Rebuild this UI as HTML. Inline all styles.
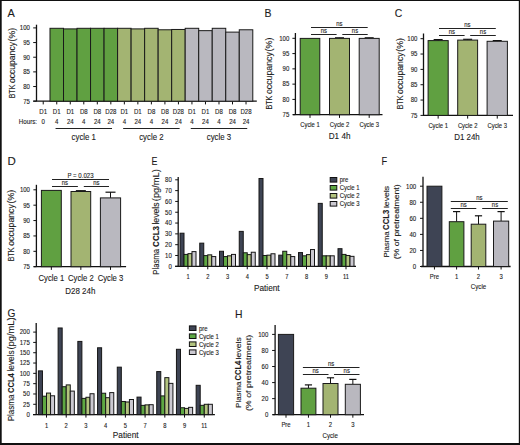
<!DOCTYPE html><html><head><meta charset="utf-8"><style>html,body{margin:0;padding:0;background:#fff;width:520px;height:445px;overflow:hidden}svg text{font-family:"Liberation Sans", sans-serif}</style></head><body><svg width="520" height="445" viewBox="0 0 520 445" style="position:absolute;left:0;top:0">
<rect x="0" y="0" width="520" height="445" fill="#fff"/>
<text x="7.60" y="17.00" font-size="11.3" text-anchor="start" fill="#1c1c1c" textLength="7.30" lengthAdjust="spacingAndGlyphs" stroke="#1c1c1c" stroke-width="0.12">A</text>
<line x1="36.50" y1="24.70" x2="36.50" y2="101.20" stroke="#111111" stroke-width="1.3"/>
<line x1="33.20" y1="27.90" x2="36.50" y2="27.90" stroke="#111111" stroke-width="1.0"/>
<text x="29.90" y="30.24" font-size="6.5" text-anchor="end" fill="#1c1c1c" textLength="10.08" lengthAdjust="spacingAndGlyphs" stroke="#1c1c1c" stroke-width="0.12">100</text>
<line x1="33.20" y1="42.56" x2="36.50" y2="42.56" stroke="#111111" stroke-width="1.0"/>
<text x="29.90" y="44.90" font-size="6.5" text-anchor="end" fill="#1c1c1c" textLength="6.72" lengthAdjust="spacingAndGlyphs" stroke="#1c1c1c" stroke-width="0.12">95</text>
<line x1="33.20" y1="57.22" x2="36.50" y2="57.22" stroke="#111111" stroke-width="1.0"/>
<text x="29.90" y="59.56" font-size="6.5" text-anchor="end" fill="#1c1c1c" textLength="6.72" lengthAdjust="spacingAndGlyphs" stroke="#1c1c1c" stroke-width="0.12">90</text>
<line x1="33.20" y1="71.88" x2="36.50" y2="71.88" stroke="#111111" stroke-width="1.0"/>
<text x="29.90" y="74.22" font-size="6.5" text-anchor="end" fill="#1c1c1c" textLength="6.72" lengthAdjust="spacingAndGlyphs" stroke="#1c1c1c" stroke-width="0.12">85</text>
<line x1="33.20" y1="86.54" x2="36.50" y2="86.54" stroke="#111111" stroke-width="1.0"/>
<text x="29.90" y="88.88" font-size="6.5" text-anchor="end" fill="#1c1c1c" textLength="6.72" lengthAdjust="spacingAndGlyphs" stroke="#1c1c1c" stroke-width="0.12">80</text>
<line x1="33.20" y1="101.20" x2="36.50" y2="101.20" stroke="#111111" stroke-width="1.0"/>
<text x="29.90" y="103.54" font-size="6.5" text-anchor="end" fill="#1c1c1c" textLength="6.72" lengthAdjust="spacingAndGlyphs" stroke="#1c1c1c" stroke-width="0.12">75</text>
<text transform="translate(15.00,98.30) rotate(-90)" font-size="9.0" fill="#1c1c1c" stroke="#1c1c1c" stroke-width="0.12" textLength="13.60" lengthAdjust="spacingAndGlyphs">BTK</text>
<text transform="translate(15.00,83.10) rotate(-90)" font-size="9.0" fill="#1c1c1c" stroke="#1c1c1c" stroke-width="0.12" textLength="41.10" lengthAdjust="spacingAndGlyphs">occupancy</text>
<text transform="translate(15.00,41.40) rotate(-90)" font-size="9.0" fill="#1c1c1c" stroke="#1c1c1c" stroke-width="0.12" textLength="13.60" lengthAdjust="spacingAndGlyphs">(%)</text>
<line x1="33.30" y1="101.20" x2="256.80" y2="101.20" stroke="#111111" stroke-width="1.3"/>
<line x1="43.23" y1="101.20" x2="43.23" y2="104.40" stroke="#111111" stroke-width="1.0"/>
<line x1="56.75" y1="101.20" x2="56.75" y2="104.40" stroke="#111111" stroke-width="1.0"/>
<rect x="49.99" y="28.30" width="13.52" height="72.90" fill="#60a041" stroke="#1a1a1a" stroke-width="1.0"/>
<line x1="70.27" y1="101.20" x2="70.27" y2="104.40" stroke="#111111" stroke-width="1.0"/>
<rect x="63.51" y="28.89" width="13.52" height="72.31" fill="#60a041" stroke="#1a1a1a" stroke-width="1.0"/>
<line x1="83.79" y1="101.20" x2="83.79" y2="104.40" stroke="#111111" stroke-width="1.0"/>
<rect x="77.03" y="28.30" width="13.52" height="72.90" fill="#60a041" stroke="#1a1a1a" stroke-width="1.0"/>
<line x1="97.31" y1="101.20" x2="97.31" y2="104.40" stroke="#111111" stroke-width="1.0"/>
<rect x="90.55" y="28.30" width="13.52" height="72.90" fill="#60a041" stroke="#1a1a1a" stroke-width="1.0"/>
<line x1="110.83" y1="101.20" x2="110.83" y2="104.40" stroke="#111111" stroke-width="1.0"/>
<rect x="104.07" y="28.30" width="13.52" height="72.90" fill="#60a041" stroke="#1a1a1a" stroke-width="1.0"/>
<line x1="124.35" y1="101.20" x2="124.35" y2="104.40" stroke="#111111" stroke-width="1.0"/>
<rect x="117.59" y="28.30" width="13.52" height="72.90" fill="#a3b472" stroke="#1a1a1a" stroke-width="1.0"/>
<line x1="137.87" y1="101.20" x2="137.87" y2="104.40" stroke="#111111" stroke-width="1.0"/>
<rect x="131.11" y="28.89" width="13.52" height="72.31" fill="#a3b472" stroke="#1a1a1a" stroke-width="1.0"/>
<line x1="151.39" y1="101.20" x2="151.39" y2="104.40" stroke="#111111" stroke-width="1.0"/>
<rect x="144.63" y="28.30" width="13.52" height="72.90" fill="#a3b472" stroke="#1a1a1a" stroke-width="1.0"/>
<line x1="164.91" y1="101.20" x2="164.91" y2="104.40" stroke="#111111" stroke-width="1.0"/>
<rect x="158.15" y="29.77" width="13.52" height="71.43" fill="#a3b472" stroke="#1a1a1a" stroke-width="1.0"/>
<line x1="178.43" y1="101.20" x2="178.43" y2="104.40" stroke="#111111" stroke-width="1.0"/>
<rect x="171.67" y="29.47" width="13.52" height="71.73" fill="#a3b472" stroke="#1a1a1a" stroke-width="1.0"/>
<line x1="191.95" y1="101.20" x2="191.95" y2="104.40" stroke="#111111" stroke-width="1.0"/>
<rect x="185.19" y="28.30" width="13.52" height="72.90" fill="#b9b8bf" stroke="#1a1a1a" stroke-width="1.0"/>
<line x1="205.47" y1="101.20" x2="205.47" y2="104.40" stroke="#111111" stroke-width="1.0"/>
<rect x="198.71" y="30.65" width="13.52" height="70.55" fill="#b9b8bf" stroke="#1a1a1a" stroke-width="1.0"/>
<line x1="218.99" y1="101.20" x2="218.99" y2="104.40" stroke="#111111" stroke-width="1.0"/>
<rect x="212.23" y="28.30" width="13.52" height="72.90" fill="#b9b8bf" stroke="#1a1a1a" stroke-width="1.0"/>
<line x1="232.51" y1="101.20" x2="232.51" y2="104.40" stroke="#111111" stroke-width="1.0"/>
<rect x="225.75" y="32.11" width="13.52" height="69.09" fill="#b9b8bf" stroke="#1a1a1a" stroke-width="1.0"/>
<line x1="246.03" y1="101.20" x2="246.03" y2="104.40" stroke="#111111" stroke-width="1.0"/>
<rect x="239.27" y="29.77" width="13.52" height="71.43" fill="#b9b8bf" stroke="#1a1a1a" stroke-width="1.0"/>
<text x="43.23" y="113.70" font-size="6.6" text-anchor="middle" fill="#1c1c1c" textLength="7.76" lengthAdjust="spacingAndGlyphs" stroke="#1c1c1c" stroke-width="0.12">D1</text>
<text x="43.23" y="123.80" font-size="6.6" text-anchor="middle" fill="#1c1c1c" textLength="3.38" lengthAdjust="spacingAndGlyphs" stroke="#1c1c1c" stroke-width="0.12">0</text>
<text x="56.75" y="113.70" font-size="6.6" text-anchor="middle" fill="#1c1c1c" textLength="7.76" lengthAdjust="spacingAndGlyphs" stroke="#1c1c1c" stroke-width="0.12">D1</text>
<text x="56.75" y="123.80" font-size="6.6" text-anchor="middle" fill="#1c1c1c" textLength="3.38" lengthAdjust="spacingAndGlyphs" stroke="#1c1c1c" stroke-width="0.12">4</text>
<text x="70.27" y="113.70" font-size="6.6" text-anchor="middle" fill="#1c1c1c" textLength="7.76" lengthAdjust="spacingAndGlyphs" stroke="#1c1c1c" stroke-width="0.12">D1</text>
<text x="70.27" y="123.80" font-size="6.6" text-anchor="middle" fill="#1c1c1c" textLength="6.75" lengthAdjust="spacingAndGlyphs" stroke="#1c1c1c" stroke-width="0.12">24</text>
<text x="83.79" y="113.70" font-size="6.6" text-anchor="middle" fill="#1c1c1c" textLength="7.76" lengthAdjust="spacingAndGlyphs" stroke="#1c1c1c" stroke-width="0.12">D8</text>
<text x="83.79" y="123.80" font-size="6.6" text-anchor="middle" fill="#1c1c1c" textLength="3.38" lengthAdjust="spacingAndGlyphs" stroke="#1c1c1c" stroke-width="0.12">4</text>
<text x="97.31" y="113.70" font-size="6.6" text-anchor="middle" fill="#1c1c1c" textLength="7.76" lengthAdjust="spacingAndGlyphs" stroke="#1c1c1c" stroke-width="0.12">D8</text>
<text x="97.31" y="123.80" font-size="6.6" text-anchor="middle" fill="#1c1c1c" textLength="6.75" lengthAdjust="spacingAndGlyphs" stroke="#1c1c1c" stroke-width="0.12">24</text>
<text x="110.83" y="113.70" font-size="6.6" text-anchor="middle" fill="#1c1c1c" textLength="11.14" lengthAdjust="spacingAndGlyphs" stroke="#1c1c1c" stroke-width="0.12">D28</text>
<text x="110.83" y="123.80" font-size="6.6" text-anchor="middle" fill="#1c1c1c" textLength="6.75" lengthAdjust="spacingAndGlyphs" stroke="#1c1c1c" stroke-width="0.12">24</text>
<text x="124.35" y="113.70" font-size="6.6" text-anchor="middle" fill="#1c1c1c" textLength="7.76" lengthAdjust="spacingAndGlyphs" stroke="#1c1c1c" stroke-width="0.12">D1</text>
<text x="124.35" y="123.80" font-size="6.6" text-anchor="middle" fill="#1c1c1c" textLength="3.38" lengthAdjust="spacingAndGlyphs" stroke="#1c1c1c" stroke-width="0.12">4</text>
<text x="137.87" y="113.70" font-size="6.6" text-anchor="middle" fill="#1c1c1c" textLength="7.76" lengthAdjust="spacingAndGlyphs" stroke="#1c1c1c" stroke-width="0.12">D1</text>
<text x="137.87" y="123.80" font-size="6.6" text-anchor="middle" fill="#1c1c1c" textLength="6.75" lengthAdjust="spacingAndGlyphs" stroke="#1c1c1c" stroke-width="0.12">24</text>
<text x="151.39" y="113.70" font-size="6.6" text-anchor="middle" fill="#1c1c1c" textLength="7.76" lengthAdjust="spacingAndGlyphs" stroke="#1c1c1c" stroke-width="0.12">D8</text>
<text x="151.39" y="123.80" font-size="6.6" text-anchor="middle" fill="#1c1c1c" textLength="3.38" lengthAdjust="spacingAndGlyphs" stroke="#1c1c1c" stroke-width="0.12">4</text>
<text x="164.91" y="113.70" font-size="6.6" text-anchor="middle" fill="#1c1c1c" textLength="7.76" lengthAdjust="spacingAndGlyphs" stroke="#1c1c1c" stroke-width="0.12">D8</text>
<text x="164.91" y="123.80" font-size="6.6" text-anchor="middle" fill="#1c1c1c" textLength="6.75" lengthAdjust="spacingAndGlyphs" stroke="#1c1c1c" stroke-width="0.12">24</text>
<text x="178.43" y="113.70" font-size="6.6" text-anchor="middle" fill="#1c1c1c" textLength="11.14" lengthAdjust="spacingAndGlyphs" stroke="#1c1c1c" stroke-width="0.12">D28</text>
<text x="178.43" y="123.80" font-size="6.6" text-anchor="middle" fill="#1c1c1c" textLength="6.75" lengthAdjust="spacingAndGlyphs" stroke="#1c1c1c" stroke-width="0.12">24</text>
<text x="191.95" y="113.70" font-size="6.6" text-anchor="middle" fill="#1c1c1c" textLength="7.76" lengthAdjust="spacingAndGlyphs" stroke="#1c1c1c" stroke-width="0.12">D1</text>
<text x="191.95" y="123.80" font-size="6.6" text-anchor="middle" fill="#1c1c1c" textLength="3.38" lengthAdjust="spacingAndGlyphs" stroke="#1c1c1c" stroke-width="0.12">4</text>
<text x="205.47" y="113.70" font-size="6.6" text-anchor="middle" fill="#1c1c1c" textLength="7.76" lengthAdjust="spacingAndGlyphs" stroke="#1c1c1c" stroke-width="0.12">D1</text>
<text x="205.47" y="123.80" font-size="6.6" text-anchor="middle" fill="#1c1c1c" textLength="6.75" lengthAdjust="spacingAndGlyphs" stroke="#1c1c1c" stroke-width="0.12">24</text>
<text x="218.99" y="113.70" font-size="6.6" text-anchor="middle" fill="#1c1c1c" textLength="7.76" lengthAdjust="spacingAndGlyphs" stroke="#1c1c1c" stroke-width="0.12">D8</text>
<text x="218.99" y="123.80" font-size="6.6" text-anchor="middle" fill="#1c1c1c" textLength="3.38" lengthAdjust="spacingAndGlyphs" stroke="#1c1c1c" stroke-width="0.12">4</text>
<text x="232.51" y="113.70" font-size="6.6" text-anchor="middle" fill="#1c1c1c" textLength="7.76" lengthAdjust="spacingAndGlyphs" stroke="#1c1c1c" stroke-width="0.12">D8</text>
<text x="232.51" y="123.80" font-size="6.6" text-anchor="middle" fill="#1c1c1c" textLength="6.75" lengthAdjust="spacingAndGlyphs" stroke="#1c1c1c" stroke-width="0.12">24</text>
<text x="246.03" y="113.70" font-size="6.6" text-anchor="middle" fill="#1c1c1c" textLength="11.14" lengthAdjust="spacingAndGlyphs" stroke="#1c1c1c" stroke-width="0.12">D28</text>
<text x="246.03" y="123.80" font-size="6.6" text-anchor="middle" fill="#1c1c1c" textLength="6.75" lengthAdjust="spacingAndGlyphs" stroke="#1c1c1c" stroke-width="0.12">24</text>
<text x="37.00" y="123.80" font-size="6.6" text-anchor="end" fill="#1c1c1c" textLength="18.20" lengthAdjust="spacingAndGlyphs" stroke="#1c1c1c" stroke-width="0.12">Hours:</text>
<line x1="55.55" y1="128.50" x2="112.03" y2="128.50" stroke="#222" stroke-width="1.2"/>
<text x="83.79" y="139.60" font-size="8.5" text-anchor="middle" fill="#1c1c1c" textLength="24.40" lengthAdjust="spacingAndGlyphs" stroke="#1c1c1c" stroke-width="0.12">cycle 1</text>
<line x1="123.15" y1="128.50" x2="179.63" y2="128.50" stroke="#222" stroke-width="1.2"/>
<text x="151.39" y="139.60" font-size="8.5" text-anchor="middle" fill="#1c1c1c" textLength="24.40" lengthAdjust="spacingAndGlyphs" stroke="#1c1c1c" stroke-width="0.12">cycle 2</text>
<line x1="190.75" y1="128.50" x2="247.23" y2="128.50" stroke="#222" stroke-width="1.2"/>
<text x="218.99" y="139.60" font-size="8.5" text-anchor="middle" fill="#1c1c1c" textLength="24.40" lengthAdjust="spacingAndGlyphs" stroke="#1c1c1c" stroke-width="0.12">cycle 3</text>
<text x="264.40" y="17.00" font-size="11.3" text-anchor="start" fill="#1c1c1c" textLength="7.00" lengthAdjust="spacingAndGlyphs" stroke="#1c1c1c" stroke-width="0.12">B</text>
<line x1="295.40" y1="33.00" x2="295.40" y2="114.70" stroke="#111111" stroke-width="1.3"/>
<line x1="292.40" y1="38.30" x2="295.40" y2="38.30" stroke="#111111" stroke-width="1.0"/>
<text x="289.30" y="40.64" font-size="6.5" text-anchor="end" fill="#1c1c1c" textLength="10.08" lengthAdjust="spacingAndGlyphs" stroke="#1c1c1c" stroke-width="0.12">100</text>
<line x1="292.40" y1="53.58" x2="295.40" y2="53.58" stroke="#111111" stroke-width="1.0"/>
<text x="289.30" y="55.92" font-size="6.5" text-anchor="end" fill="#1c1c1c" textLength="6.72" lengthAdjust="spacingAndGlyphs" stroke="#1c1c1c" stroke-width="0.12">95</text>
<line x1="292.40" y1="68.86" x2="295.40" y2="68.86" stroke="#111111" stroke-width="1.0"/>
<text x="289.30" y="71.20" font-size="6.5" text-anchor="end" fill="#1c1c1c" textLength="6.72" lengthAdjust="spacingAndGlyphs" stroke="#1c1c1c" stroke-width="0.12">90</text>
<line x1="292.40" y1="84.14" x2="295.40" y2="84.14" stroke="#111111" stroke-width="1.0"/>
<text x="289.30" y="86.48" font-size="6.5" text-anchor="end" fill="#1c1c1c" textLength="6.72" lengthAdjust="spacingAndGlyphs" stroke="#1c1c1c" stroke-width="0.12">85</text>
<line x1="292.40" y1="99.42" x2="295.40" y2="99.42" stroke="#111111" stroke-width="1.0"/>
<text x="289.30" y="101.76" font-size="6.5" text-anchor="end" fill="#1c1c1c" textLength="6.72" lengthAdjust="spacingAndGlyphs" stroke="#1c1c1c" stroke-width="0.12">80</text>
<line x1="292.40" y1="114.70" x2="295.40" y2="114.70" stroke="#111111" stroke-width="1.0"/>
<text x="289.30" y="117.04" font-size="6.5" text-anchor="end" fill="#1c1c1c" textLength="6.72" lengthAdjust="spacingAndGlyphs" stroke="#1c1c1c" stroke-width="0.12">75</text>
<text transform="translate(272.20,109.60) rotate(-90)" font-size="8.6" fill="#1c1c1c" stroke="#1c1c1c" stroke-width="0.12" textLength="13.87" lengthAdjust="spacingAndGlyphs">BTK</text>
<text transform="translate(272.20,94.07) rotate(-90)" font-size="8.6" fill="#1c1c1c" stroke="#1c1c1c" stroke-width="0.12" textLength="41.97" lengthAdjust="spacingAndGlyphs">occupancy</text>
<text transform="translate(272.20,51.47) rotate(-90)" font-size="8.6" fill="#1c1c1c" stroke="#1c1c1c" stroke-width="0.12" textLength="13.87" lengthAdjust="spacingAndGlyphs">(%)</text>
<line x1="293.00" y1="114.70" x2="382.50" y2="114.70" stroke="#111111" stroke-width="1.3"/>
<rect x="300.20" y="38.40" width="19.60" height="76.30" fill="#60a041" stroke="#1a1a1a" stroke-width="1.0"/>
<line x1="310.00" y1="114.70" x2="310.00" y2="117.90" stroke="#111111" stroke-width="1.0"/>
<text x="310.00" y="126.80" font-size="6.3" text-anchor="middle" fill="#1c1c1c" textLength="19.50" lengthAdjust="spacingAndGlyphs" stroke="#1c1c1c" stroke-width="0.12">Cycle 1</text>
<line x1="339.50" y1="37.80" x2="339.50" y2="38.40" stroke="#111" stroke-width="1.0"/>
<line x1="335.00" y1="37.80" x2="344.00" y2="37.80" stroke="#111" stroke-width="1.2"/>
<rect x="329.50" y="38.40" width="20.00" height="76.30" fill="#a3b472" stroke="#1a1a1a" stroke-width="1.0"/>
<line x1="339.50" y1="114.70" x2="339.50" y2="117.90" stroke="#111111" stroke-width="1.0"/>
<text x="339.50" y="126.80" font-size="6.3" text-anchor="middle" fill="#1c1c1c" textLength="19.50" lengthAdjust="spacingAndGlyphs" stroke="#1c1c1c" stroke-width="0.12">Cycle 2</text>
<line x1="369.20" y1="37.80" x2="369.20" y2="38.40" stroke="#111" stroke-width="1.0"/>
<line x1="364.70" y1="37.80" x2="373.70" y2="37.80" stroke="#111" stroke-width="1.2"/>
<rect x="359.20" y="38.40" width="20.00" height="76.30" fill="#b9b8bf" stroke="#1a1a1a" stroke-width="1.0"/>
<line x1="369.20" y1="114.70" x2="369.20" y2="117.90" stroke="#111111" stroke-width="1.0"/>
<text x="369.20" y="126.80" font-size="6.3" text-anchor="middle" fill="#1c1c1c" textLength="19.50" lengthAdjust="spacingAndGlyphs" stroke="#1c1c1c" stroke-width="0.12">Cycle 3</text>
<text x="339.60" y="139.10" font-size="8.6" text-anchor="middle" fill="#1c1c1c" textLength="21.70" lengthAdjust="spacingAndGlyphs" stroke="#1c1c1c" stroke-width="0.12">D1 4h</text>
<line x1="311.00" y1="27.50" x2="367.70" y2="27.50" stroke="#222" stroke-width="1.0"/>
<line x1="311.00" y1="34.50" x2="336.60" y2="34.50" stroke="#222" stroke-width="1.0"/>
<line x1="342.30" y1="34.50" x2="367.70" y2="34.50" stroke="#222" stroke-width="1.0"/>
<text x="339.35" y="25.80" font-size="6.9" text-anchor="middle" fill="#1c1c1c" textLength="6.27" lengthAdjust="spacingAndGlyphs" stroke="#1c1c1c" stroke-width="0.12">ns</text>
<text x="323.80" y="32.80" font-size="6.9" text-anchor="middle" fill="#1c1c1c" textLength="6.27" lengthAdjust="spacingAndGlyphs" stroke="#1c1c1c" stroke-width="0.12">ns</text>
<text x="355.00" y="32.80" font-size="6.9" text-anchor="middle" fill="#1c1c1c" textLength="6.27" lengthAdjust="spacingAndGlyphs" stroke="#1c1c1c" stroke-width="0.12">ns</text>
<text x="394.80" y="17.10" font-size="11.3" text-anchor="start" fill="#1c1c1c" textLength="7.50" lengthAdjust="spacingAndGlyphs" stroke="#1c1c1c" stroke-width="0.12">C</text>
<line x1="423.50" y1="33.50" x2="423.50" y2="115.40" stroke="#111111" stroke-width="1.3"/>
<line x1="420.50" y1="38.70" x2="423.50" y2="38.70" stroke="#111111" stroke-width="1.0"/>
<text x="417.40" y="41.04" font-size="6.5" text-anchor="end" fill="#1c1c1c" textLength="10.08" lengthAdjust="spacingAndGlyphs" stroke="#1c1c1c" stroke-width="0.12">100</text>
<line x1="420.50" y1="54.04" x2="423.50" y2="54.04" stroke="#111111" stroke-width="1.0"/>
<text x="417.40" y="56.38" font-size="6.5" text-anchor="end" fill="#1c1c1c" textLength="6.72" lengthAdjust="spacingAndGlyphs" stroke="#1c1c1c" stroke-width="0.12">95</text>
<line x1="420.50" y1="69.38" x2="423.50" y2="69.38" stroke="#111111" stroke-width="1.0"/>
<text x="417.40" y="71.72" font-size="6.5" text-anchor="end" fill="#1c1c1c" textLength="6.72" lengthAdjust="spacingAndGlyphs" stroke="#1c1c1c" stroke-width="0.12">90</text>
<line x1="420.50" y1="84.72" x2="423.50" y2="84.72" stroke="#111111" stroke-width="1.0"/>
<text x="417.40" y="87.06" font-size="6.5" text-anchor="end" fill="#1c1c1c" textLength="6.72" lengthAdjust="spacingAndGlyphs" stroke="#1c1c1c" stroke-width="0.12">85</text>
<line x1="420.50" y1="100.06" x2="423.50" y2="100.06" stroke="#111111" stroke-width="1.0"/>
<text x="417.40" y="102.40" font-size="6.5" text-anchor="end" fill="#1c1c1c" textLength="6.72" lengthAdjust="spacingAndGlyphs" stroke="#1c1c1c" stroke-width="0.12">80</text>
<line x1="420.50" y1="115.40" x2="423.50" y2="115.40" stroke="#111111" stroke-width="1.0"/>
<text x="417.40" y="117.74" font-size="6.5" text-anchor="end" fill="#1c1c1c" textLength="6.72" lengthAdjust="spacingAndGlyphs" stroke="#1c1c1c" stroke-width="0.12">75</text>
<text transform="translate(402.75,109.30) rotate(-90)" font-size="8.6" fill="#1c1c1c" stroke="#1c1c1c" stroke-width="0.12" textLength="13.75" lengthAdjust="spacingAndGlyphs">BTK</text>
<text transform="translate(402.75,93.93) rotate(-90)" font-size="8.6" fill="#1c1c1c" stroke="#1c1c1c" stroke-width="0.12" textLength="41.56" lengthAdjust="spacingAndGlyphs">occupancy</text>
<text transform="translate(402.75,51.75) rotate(-90)" font-size="8.6" fill="#1c1c1c" stroke="#1c1c1c" stroke-width="0.12" textLength="13.75" lengthAdjust="spacingAndGlyphs">(%)</text>
<line x1="423.00" y1="115.40" x2="513.00" y2="115.40" stroke="#111111" stroke-width="1.3"/>
<line x1="438.15" y1="39.60" x2="438.15" y2="40.60" stroke="#111" stroke-width="1.0"/>
<line x1="433.65" y1="39.60" x2="442.65" y2="39.60" stroke="#111" stroke-width="1.2"/>
<rect x="428.10" y="40.60" width="20.10" height="74.80" fill="#60a041" stroke="#1a1a1a" stroke-width="1.0"/>
<line x1="438.15" y1="115.40" x2="438.15" y2="118.60" stroke="#111111" stroke-width="1.0"/>
<text x="438.15" y="127.80" font-size="6.3" text-anchor="middle" fill="#1c1c1c" textLength="19.50" lengthAdjust="spacingAndGlyphs" stroke="#1c1c1c" stroke-width="0.12">Cycle 1</text>
<line x1="467.65" y1="39.30" x2="467.65" y2="40.10" stroke="#111" stroke-width="1.0"/>
<line x1="463.15" y1="39.30" x2="472.15" y2="39.30" stroke="#111" stroke-width="1.2"/>
<rect x="457.70" y="40.10" width="19.90" height="75.30" fill="#a3b472" stroke="#1a1a1a" stroke-width="1.0"/>
<line x1="467.65" y1="115.40" x2="467.65" y2="118.60" stroke="#111111" stroke-width="1.0"/>
<text x="467.65" y="127.80" font-size="6.3" text-anchor="middle" fill="#1c1c1c" textLength="19.50" lengthAdjust="spacingAndGlyphs" stroke="#1c1c1c" stroke-width="0.12">Cycle 2</text>
<line x1="497.25" y1="40.60" x2="497.25" y2="41.30" stroke="#111" stroke-width="1.0"/>
<line x1="492.75" y1="40.60" x2="501.75" y2="40.60" stroke="#111" stroke-width="1.2"/>
<rect x="487.10" y="41.30" width="20.30" height="74.10" fill="#b9b8bf" stroke="#1a1a1a" stroke-width="1.0"/>
<line x1="497.25" y1="115.40" x2="497.25" y2="118.60" stroke="#111111" stroke-width="1.0"/>
<text x="497.25" y="127.80" font-size="6.3" text-anchor="middle" fill="#1c1c1c" textLength="19.50" lengthAdjust="spacingAndGlyphs" stroke="#1c1c1c" stroke-width="0.12">Cycle 3</text>
<text x="467.00" y="140.30" font-size="8.6" text-anchor="middle" fill="#1c1c1c" textLength="25.50" lengthAdjust="spacingAndGlyphs" stroke="#1c1c1c" stroke-width="0.12">D1 24h</text>
<line x1="439.00" y1="28.50" x2="495.80" y2="28.50" stroke="#222" stroke-width="1.0"/>
<line x1="439.00" y1="35.50" x2="464.60" y2="35.50" stroke="#222" stroke-width="1.0"/>
<line x1="470.20" y1="35.50" x2="495.80" y2="35.50" stroke="#222" stroke-width="1.0"/>
<text x="467.40" y="26.80" font-size="6.9" text-anchor="middle" fill="#1c1c1c" textLength="6.27" lengthAdjust="spacingAndGlyphs" stroke="#1c1c1c" stroke-width="0.12">ns</text>
<text x="451.80" y="33.80" font-size="6.9" text-anchor="middle" fill="#1c1c1c" textLength="6.27" lengthAdjust="spacingAndGlyphs" stroke="#1c1c1c" stroke-width="0.12">ns</text>
<text x="483.00" y="33.80" font-size="6.9" text-anchor="middle" fill="#1c1c1c" textLength="6.27" lengthAdjust="spacingAndGlyphs" stroke="#1c1c1c" stroke-width="0.12">ns</text>
<text x="7.40" y="165.10" font-size="11.3" text-anchor="start" fill="#1c1c1c" textLength="8.30" lengthAdjust="spacingAndGlyphs" stroke="#1c1c1c" stroke-width="0.12">D</text>
<line x1="36.40" y1="184.80" x2="36.40" y2="266.70" stroke="#111111" stroke-width="1.3"/>
<line x1="33.40" y1="189.80" x2="36.40" y2="189.80" stroke="#111111" stroke-width="1.0"/>
<text x="30.00" y="192.14" font-size="6.5" text-anchor="end" fill="#1c1c1c" textLength="10.08" lengthAdjust="spacingAndGlyphs" stroke="#1c1c1c" stroke-width="0.12">100</text>
<line x1="33.40" y1="205.18" x2="36.40" y2="205.18" stroke="#111111" stroke-width="1.0"/>
<text x="30.00" y="207.52" font-size="6.5" text-anchor="end" fill="#1c1c1c" textLength="6.72" lengthAdjust="spacingAndGlyphs" stroke="#1c1c1c" stroke-width="0.12">95</text>
<line x1="33.40" y1="220.56" x2="36.40" y2="220.56" stroke="#111111" stroke-width="1.0"/>
<text x="30.00" y="222.90" font-size="6.5" text-anchor="end" fill="#1c1c1c" textLength="6.72" lengthAdjust="spacingAndGlyphs" stroke="#1c1c1c" stroke-width="0.12">90</text>
<line x1="33.40" y1="235.94" x2="36.40" y2="235.94" stroke="#111111" stroke-width="1.0"/>
<text x="30.00" y="238.28" font-size="6.5" text-anchor="end" fill="#1c1c1c" textLength="6.72" lengthAdjust="spacingAndGlyphs" stroke="#1c1c1c" stroke-width="0.12">85</text>
<line x1="33.40" y1="251.32" x2="36.40" y2="251.32" stroke="#111111" stroke-width="1.0"/>
<text x="30.00" y="253.66" font-size="6.5" text-anchor="end" fill="#1c1c1c" textLength="6.72" lengthAdjust="spacingAndGlyphs" stroke="#1c1c1c" stroke-width="0.12">80</text>
<line x1="33.40" y1="266.70" x2="36.40" y2="266.70" stroke="#111111" stroke-width="1.0"/>
<text x="30.00" y="269.04" font-size="6.5" text-anchor="end" fill="#1c1c1c" textLength="6.72" lengthAdjust="spacingAndGlyphs" stroke="#1c1c1c" stroke-width="0.12">75</text>
<text transform="translate(14.20,261.20) rotate(-90)" font-size="8.6" fill="#1c1c1c" stroke="#1c1c1c" stroke-width="0.12" textLength="13.76" lengthAdjust="spacingAndGlyphs">BTK</text>
<text transform="translate(14.20,245.80) rotate(-90)" font-size="8.6" fill="#1c1c1c" stroke="#1c1c1c" stroke-width="0.12" textLength="41.62" lengthAdjust="spacingAndGlyphs">occupancy</text>
<text transform="translate(14.20,203.56) rotate(-90)" font-size="8.6" fill="#1c1c1c" stroke="#1c1c1c" stroke-width="0.12" textLength="13.76" lengthAdjust="spacingAndGlyphs">(%)</text>
<line x1="33.70" y1="266.70" x2="126.10" y2="266.70" stroke="#111111" stroke-width="1.3"/>
<rect x="41.40" y="190.40" width="19.90" height="76.30" fill="#60a041" stroke="#1a1a1a" stroke-width="1.0"/>
<line x1="51.35" y1="266.70" x2="51.35" y2="269.90" stroke="#111111" stroke-width="1.0"/>
<text x="51.35" y="281.00" font-size="8.9" text-anchor="middle" fill="#1c1c1c" textLength="25.60" lengthAdjust="spacingAndGlyphs" stroke="#1c1c1c" stroke-width="0.12">Cycle 1</text>
<line x1="80.85" y1="190.70" x2="80.85" y2="191.50" stroke="#111" stroke-width="1.0"/>
<line x1="75.85" y1="190.70" x2="85.85" y2="190.70" stroke="#111" stroke-width="1.2"/>
<rect x="71.00" y="191.50" width="19.70" height="75.20" fill="#a3b472" stroke="#1a1a1a" stroke-width="1.0"/>
<line x1="80.85" y1="266.70" x2="80.85" y2="269.90" stroke="#111111" stroke-width="1.0"/>
<text x="80.85" y="281.00" font-size="8.9" text-anchor="middle" fill="#1c1c1c" textLength="25.60" lengthAdjust="spacingAndGlyphs" stroke="#1c1c1c" stroke-width="0.12">Cycle 2</text>
<line x1="110.50" y1="192.20" x2="110.50" y2="197.90" stroke="#111" stroke-width="1.0"/>
<line x1="105.50" y1="192.20" x2="115.50" y2="192.20" stroke="#111" stroke-width="1.2"/>
<rect x="100.40" y="197.90" width="20.20" height="68.80" fill="#b9b8bf" stroke="#1a1a1a" stroke-width="1.0"/>
<line x1="110.50" y1="266.70" x2="110.50" y2="269.90" stroke="#111111" stroke-width="1.0"/>
<text x="110.50" y="281.00" font-size="8.9" text-anchor="middle" fill="#1c1c1c" textLength="25.60" lengthAdjust="spacingAndGlyphs" stroke="#1c1c1c" stroke-width="0.12">Cycle 3</text>
<text x="80.30" y="294.10" font-size="9.0" text-anchor="middle" fill="#1c1c1c" textLength="30.10" lengthAdjust="spacingAndGlyphs" stroke="#1c1c1c" stroke-width="0.12">D28 24h</text>
<line x1="52.00" y1="179.50" x2="109.00" y2="179.50" stroke="#222" stroke-width="1.0"/>
<line x1="52.00" y1="186.50" x2="77.90" y2="186.50" stroke="#222" stroke-width="1.0"/>
<line x1="83.80" y1="186.50" x2="109.00" y2="186.50" stroke="#222" stroke-width="1.0"/>
<text x="80.50" y="177.80" font-size="6.8" text-anchor="middle" fill="#1c1c1c" textLength="26.00" lengthAdjust="spacingAndGlyphs" stroke="#1c1c1c" stroke-width="0.12">P = 0.023</text>
<text x="64.95" y="184.80" font-size="6.9" text-anchor="middle" fill="#1c1c1c" textLength="6.27" lengthAdjust="spacingAndGlyphs" stroke="#1c1c1c" stroke-width="0.12">ns</text>
<text x="96.40" y="184.80" font-size="6.9" text-anchor="middle" fill="#1c1c1c" textLength="6.27" lengthAdjust="spacingAndGlyphs" stroke="#1c1c1c" stroke-width="0.12">ns</text>
<text x="151.60" y="165.30" font-size="11.3" text-anchor="start" fill="#1c1c1c" textLength="5.90" lengthAdjust="spacingAndGlyphs" stroke="#1c1c1c" stroke-width="0.12">E</text>
<line x1="178.20" y1="177.00" x2="178.20" y2="266.30" stroke="#111111" stroke-width="1.3"/>
<line x1="175.20" y1="179.80" x2="178.20" y2="179.80" stroke="#111111" stroke-width="1.0"/>
<text x="171.80" y="182.14" font-size="6.5" text-anchor="end" fill="#1c1c1c" textLength="6.72" lengthAdjust="spacingAndGlyphs" stroke="#1c1c1c" stroke-width="0.12">80</text>
<line x1="175.20" y1="190.61" x2="178.20" y2="190.61" stroke="#111111" stroke-width="1.0"/>
<text x="171.80" y="192.95" font-size="6.5" text-anchor="end" fill="#1c1c1c" textLength="6.72" lengthAdjust="spacingAndGlyphs" stroke="#1c1c1c" stroke-width="0.12">70</text>
<line x1="175.20" y1="201.43" x2="178.20" y2="201.43" stroke="#111111" stroke-width="1.0"/>
<text x="171.80" y="203.77" font-size="6.5" text-anchor="end" fill="#1c1c1c" textLength="6.72" lengthAdjust="spacingAndGlyphs" stroke="#1c1c1c" stroke-width="0.12">60</text>
<line x1="175.20" y1="212.24" x2="178.20" y2="212.24" stroke="#111111" stroke-width="1.0"/>
<text x="171.80" y="214.58" font-size="6.5" text-anchor="end" fill="#1c1c1c" textLength="6.72" lengthAdjust="spacingAndGlyphs" stroke="#1c1c1c" stroke-width="0.12">50</text>
<line x1="175.20" y1="223.05" x2="178.20" y2="223.05" stroke="#111111" stroke-width="1.0"/>
<text x="171.80" y="225.39" font-size="6.5" text-anchor="end" fill="#1c1c1c" textLength="6.72" lengthAdjust="spacingAndGlyphs" stroke="#1c1c1c" stroke-width="0.12">40</text>
<line x1="175.20" y1="233.86" x2="178.20" y2="233.86" stroke="#111111" stroke-width="1.0"/>
<text x="171.80" y="236.20" font-size="6.5" text-anchor="end" fill="#1c1c1c" textLength="6.72" lengthAdjust="spacingAndGlyphs" stroke="#1c1c1c" stroke-width="0.12">30</text>
<line x1="175.20" y1="244.68" x2="178.20" y2="244.68" stroke="#111111" stroke-width="1.0"/>
<text x="171.80" y="247.02" font-size="6.5" text-anchor="end" fill="#1c1c1c" textLength="6.72" lengthAdjust="spacingAndGlyphs" stroke="#1c1c1c" stroke-width="0.12">20</text>
<line x1="175.20" y1="255.49" x2="178.20" y2="255.49" stroke="#111111" stroke-width="1.0"/>
<text x="171.80" y="257.83" font-size="6.5" text-anchor="end" fill="#1c1c1c" textLength="6.72" lengthAdjust="spacingAndGlyphs" stroke="#1c1c1c" stroke-width="0.12">10</text>
<line x1="175.20" y1="266.30" x2="178.20" y2="266.30" stroke="#111111" stroke-width="1.0"/>
<text x="171.80" y="268.64" font-size="6.5" text-anchor="end" fill="#1c1c1c" textLength="3.36" lengthAdjust="spacingAndGlyphs" stroke="#1c1c1c" stroke-width="0.12">0</text>
<line x1="175.10" y1="266.30" x2="356.00" y2="266.30" stroke="#111111" stroke-width="1.3"/>
<rect x="180.00" y="233.21" width="4.00" height="33.09" fill="#3e4454" stroke="#161616" stroke-width="1.0"/>
<rect x="184.00" y="254.41" width="4.00" height="11.89" fill="#5ea842" stroke="#161616" stroke-width="1.0"/>
<rect x="188.00" y="253.65" width="4.00" height="12.65" fill="#b3c47f" stroke="#161616" stroke-width="1.0"/>
<rect x="192.00" y="251.60" width="4.00" height="14.70" fill="#cbc9d1" stroke="#161616" stroke-width="1.0"/>
<line x1="188.00" y1="266.30" x2="188.00" y2="269.30" stroke="#111111" stroke-width="1.0"/>
<text x="188.00" y="279.00" font-size="6.4" text-anchor="middle" fill="#1c1c1c" textLength="3.20" lengthAdjust="spacingAndGlyphs" stroke="#1c1c1c" stroke-width="0.12">1</text>
<rect x="199.75" y="243.16" width="4.00" height="23.14" fill="#3e4454" stroke="#161616" stroke-width="1.0"/>
<rect x="203.75" y="255.60" width="4.00" height="10.70" fill="#5ea842" stroke="#161616" stroke-width="1.0"/>
<rect x="207.75" y="254.84" width="4.00" height="11.46" fill="#b3c47f" stroke="#161616" stroke-width="1.0"/>
<rect x="211.75" y="256.57" width="4.00" height="9.73" fill="#cbc9d1" stroke="#161616" stroke-width="1.0"/>
<line x1="207.75" y1="266.30" x2="207.75" y2="269.30" stroke="#111111" stroke-width="1.0"/>
<text x="207.75" y="279.00" font-size="6.4" text-anchor="middle" fill="#1c1c1c" textLength="3.20" lengthAdjust="spacingAndGlyphs" stroke="#1c1c1c" stroke-width="0.12">2</text>
<rect x="219.50" y="251.27" width="4.00" height="15.03" fill="#3e4454" stroke="#161616" stroke-width="1.0"/>
<rect x="223.50" y="256.57" width="4.00" height="9.73" fill="#5ea842" stroke="#161616" stroke-width="1.0"/>
<rect x="227.50" y="255.81" width="4.00" height="10.49" fill="#b3c47f" stroke="#161616" stroke-width="1.0"/>
<rect x="231.50" y="254.41" width="4.00" height="11.89" fill="#cbc9d1" stroke="#161616" stroke-width="1.0"/>
<line x1="227.50" y1="266.30" x2="227.50" y2="269.30" stroke="#111111" stroke-width="1.0"/>
<text x="227.50" y="279.00" font-size="6.4" text-anchor="middle" fill="#1c1c1c" textLength="3.20" lengthAdjust="spacingAndGlyphs" stroke="#1c1c1c" stroke-width="0.12">3</text>
<rect x="239.25" y="231.38" width="4.00" height="34.92" fill="#3e4454" stroke="#161616" stroke-width="1.0"/>
<rect x="243.25" y="252.78" width="4.00" height="13.52" fill="#5ea842" stroke="#161616" stroke-width="1.0"/>
<rect x="247.25" y="254.62" width="4.00" height="11.68" fill="#b3c47f" stroke="#161616" stroke-width="1.0"/>
<rect x="251.25" y="252.24" width="4.00" height="14.06" fill="#cbc9d1" stroke="#161616" stroke-width="1.0"/>
<line x1="247.25" y1="266.30" x2="247.25" y2="269.30" stroke="#111111" stroke-width="1.0"/>
<text x="247.25" y="279.00" font-size="6.4" text-anchor="middle" fill="#1c1c1c" textLength="3.20" lengthAdjust="spacingAndGlyphs" stroke="#1c1c1c" stroke-width="0.12">4</text>
<rect x="259.00" y="178.50" width="4.00" height="87.80" fill="#3e4454" stroke="#161616" stroke-width="1.0"/>
<rect x="263.00" y="255.49" width="4.00" height="10.81" fill="#5ea842" stroke="#161616" stroke-width="1.0"/>
<rect x="267.00" y="255.16" width="4.00" height="11.14" fill="#b3c47f" stroke="#161616" stroke-width="1.0"/>
<rect x="271.00" y="253.76" width="4.00" height="12.54" fill="#cbc9d1" stroke="#161616" stroke-width="1.0"/>
<line x1="267.00" y1="266.30" x2="267.00" y2="269.30" stroke="#111111" stroke-width="1.0"/>
<text x="267.00" y="279.00" font-size="6.4" text-anchor="middle" fill="#1c1c1c" textLength="3.20" lengthAdjust="spacingAndGlyphs" stroke="#1c1c1c" stroke-width="0.12">5</text>
<rect x="278.75" y="255.16" width="4.00" height="11.14" fill="#3e4454" stroke="#161616" stroke-width="1.0"/>
<rect x="282.75" y="251.27" width="4.00" height="15.03" fill="#5ea842" stroke="#161616" stroke-width="1.0"/>
<rect x="286.75" y="254.62" width="4.00" height="11.68" fill="#b3c47f" stroke="#161616" stroke-width="1.0"/>
<rect x="290.75" y="256.57" width="4.00" height="9.73" fill="#cbc9d1" stroke="#161616" stroke-width="1.0"/>
<line x1="286.75" y1="266.30" x2="286.75" y2="269.30" stroke="#111111" stroke-width="1.0"/>
<text x="286.75" y="279.00" font-size="6.4" text-anchor="middle" fill="#1c1c1c" textLength="3.20" lengthAdjust="spacingAndGlyphs" stroke="#1c1c1c" stroke-width="0.12">7</text>
<rect x="298.50" y="252.57" width="4.00" height="13.73" fill="#3e4454" stroke="#161616" stroke-width="1.0"/>
<rect x="302.50" y="255.81" width="4.00" height="10.49" fill="#5ea842" stroke="#161616" stroke-width="1.0"/>
<rect x="306.50" y="254.62" width="4.00" height="11.68" fill="#b3c47f" stroke="#161616" stroke-width="1.0"/>
<rect x="310.50" y="249.54" width="4.00" height="16.76" fill="#cbc9d1" stroke="#161616" stroke-width="1.0"/>
<line x1="306.50" y1="266.30" x2="306.50" y2="269.30" stroke="#111111" stroke-width="1.0"/>
<text x="306.50" y="279.00" font-size="6.4" text-anchor="middle" fill="#1c1c1c" textLength="3.20" lengthAdjust="spacingAndGlyphs" stroke="#1c1c1c" stroke-width="0.12">8</text>
<rect x="318.25" y="203.37" width="4.00" height="62.93" fill="#3e4454" stroke="#161616" stroke-width="1.0"/>
<rect x="322.25" y="255.81" width="4.00" height="10.49" fill="#5ea842" stroke="#161616" stroke-width="1.0"/>
<rect x="326.25" y="255.81" width="4.00" height="10.49" fill="#b3c47f" stroke="#161616" stroke-width="1.0"/>
<rect x="330.25" y="255.81" width="4.00" height="10.49" fill="#cbc9d1" stroke="#161616" stroke-width="1.0"/>
<line x1="326.25" y1="266.30" x2="326.25" y2="269.30" stroke="#111111" stroke-width="1.0"/>
<text x="326.25" y="279.00" font-size="6.4" text-anchor="middle" fill="#1c1c1c" textLength="3.20" lengthAdjust="spacingAndGlyphs" stroke="#1c1c1c" stroke-width="0.12">9</text>
<rect x="338.00" y="248.68" width="4.00" height="17.62" fill="#3e4454" stroke="#161616" stroke-width="1.0"/>
<rect x="342.00" y="254.41" width="4.00" height="11.89" fill="#5ea842" stroke="#161616" stroke-width="1.0"/>
<rect x="346.00" y="255.49" width="4.00" height="10.81" fill="#b3c47f" stroke="#161616" stroke-width="1.0"/>
<rect x="350.00" y="256.35" width="4.00" height="9.95" fill="#cbc9d1" stroke="#161616" stroke-width="1.0"/>
<line x1="346.00" y1="266.30" x2="346.00" y2="269.30" stroke="#111111" stroke-width="1.0"/>
<text x="346.00" y="279.00" font-size="6.4" text-anchor="middle" fill="#1c1c1c" textLength="5.98" lengthAdjust="spacingAndGlyphs" stroke="#1c1c1c" stroke-width="0.12">11</text>
<text x="266.80" y="290.80" font-size="8.6" text-anchor="middle" fill="#1c1c1c" textLength="25.70" lengthAdjust="spacingAndGlyphs" stroke="#1c1c1c" stroke-width="0.12">Patient</text>
<rect x="330.20" y="177.50" width="6.60" height="4.60" fill="#3e4454" stroke="#111" stroke-width="1.0"/>
<text x="339.80" y="182.20" font-size="6.6" text-anchor="start" fill="#1c1c1c" textLength="8.58" lengthAdjust="spacingAndGlyphs" stroke="#1c1c1c" stroke-width="0.12">pre</text>
<rect x="330.20" y="185.50" width="6.60" height="4.60" fill="#5ea842" stroke="#111" stroke-width="1.0"/>
<text x="339.80" y="190.20" font-size="6.6" text-anchor="start" fill="#1c1c1c" textLength="19.81" lengthAdjust="spacingAndGlyphs" stroke="#1c1c1c" stroke-width="0.12">Cycle 1</text>
<rect x="330.20" y="193.50" width="6.60" height="4.60" fill="#b3c47f" stroke="#111" stroke-width="1.0"/>
<text x="339.80" y="198.20" font-size="6.6" text-anchor="start" fill="#1c1c1c" textLength="19.81" lengthAdjust="spacingAndGlyphs" stroke="#1c1c1c" stroke-width="0.12">Cycle 2</text>
<rect x="330.20" y="201.50" width="6.60" height="4.60" fill="#cbc9d1" stroke="#111" stroke-width="1.0"/>
<text x="339.80" y="206.20" font-size="6.6" text-anchor="start" fill="#1c1c1c" textLength="19.81" lengthAdjust="spacingAndGlyphs" stroke="#1c1c1c" stroke-width="0.12">Cycle 3</text>
<text transform="translate(159.20,274.70) rotate(-90)" font-size="8.8" fill="#1c1c1c" stroke="#1c1c1c" stroke-width="0.12" textLength="25.70" lengthAdjust="spacingAndGlyphs">Plasma</text>
<text transform="translate(159.20,246.90) rotate(-90)" font-size="8.8" fill="#1c1c1c" stroke="#1c1c1c" stroke-width="0.12" font-weight="bold" textLength="20.90" lengthAdjust="spacingAndGlyphs">CCL3</text>
<text transform="translate(159.20,224.60) rotate(-90)" font-size="8.8" fill="#1c1c1c" stroke="#1c1c1c" stroke-width="0.12" textLength="22.10" lengthAdjust="spacingAndGlyphs">levels</text>
<text transform="translate(159.20,201.20) rotate(-90)" font-size="8.8" fill="#1c1c1c" stroke="#1c1c1c" stroke-width="0.12" textLength="32.10" lengthAdjust="spacingAndGlyphs">(pg/mL)</text>
<text x="7.40" y="317.30" font-size="11.3" text-anchor="start" fill="#1c1c1c" textLength="7.90" lengthAdjust="spacingAndGlyphs" stroke="#1c1c1c" stroke-width="0.12">G</text>
<line x1="36.20" y1="322.90" x2="36.20" y2="414.60" stroke="#111111" stroke-width="1.3"/>
<line x1="33.20" y1="332.10" x2="36.20" y2="332.10" stroke="#111111" stroke-width="1.0"/>
<text x="29.80" y="334.44" font-size="6.5" text-anchor="end" fill="#1c1c1c" textLength="10.08" lengthAdjust="spacingAndGlyphs" stroke="#1c1c1c" stroke-width="0.12">200</text>
<line x1="33.20" y1="342.41" x2="36.20" y2="342.41" stroke="#111111" stroke-width="1.0"/>
<text x="29.80" y="344.75" font-size="6.5" text-anchor="end" fill="#1c1c1c" textLength="10.08" lengthAdjust="spacingAndGlyphs" stroke="#1c1c1c" stroke-width="0.12">175</text>
<line x1="33.20" y1="352.73" x2="36.20" y2="352.73" stroke="#111111" stroke-width="1.0"/>
<text x="29.80" y="355.06" font-size="6.5" text-anchor="end" fill="#1c1c1c" textLength="10.08" lengthAdjust="spacingAndGlyphs" stroke="#1c1c1c" stroke-width="0.12">150</text>
<line x1="33.20" y1="363.04" x2="36.20" y2="363.04" stroke="#111111" stroke-width="1.0"/>
<text x="29.80" y="365.38" font-size="6.5" text-anchor="end" fill="#1c1c1c" textLength="10.08" lengthAdjust="spacingAndGlyphs" stroke="#1c1c1c" stroke-width="0.12">125</text>
<line x1="33.20" y1="373.35" x2="36.20" y2="373.35" stroke="#111111" stroke-width="1.0"/>
<text x="29.80" y="375.69" font-size="6.5" text-anchor="end" fill="#1c1c1c" textLength="10.08" lengthAdjust="spacingAndGlyphs" stroke="#1c1c1c" stroke-width="0.12">100</text>
<line x1="33.20" y1="383.66" x2="36.20" y2="383.66" stroke="#111111" stroke-width="1.0"/>
<text x="29.80" y="386.00" font-size="6.5" text-anchor="end" fill="#1c1c1c" textLength="6.72" lengthAdjust="spacingAndGlyphs" stroke="#1c1c1c" stroke-width="0.12">75</text>
<line x1="33.20" y1="393.98" x2="36.20" y2="393.98" stroke="#111111" stroke-width="1.0"/>
<text x="29.80" y="396.31" font-size="6.5" text-anchor="end" fill="#1c1c1c" textLength="6.72" lengthAdjust="spacingAndGlyphs" stroke="#1c1c1c" stroke-width="0.12">50</text>
<line x1="33.20" y1="404.29" x2="36.20" y2="404.29" stroke="#111111" stroke-width="1.0"/>
<text x="29.80" y="406.63" font-size="6.5" text-anchor="end" fill="#1c1c1c" textLength="6.72" lengthAdjust="spacingAndGlyphs" stroke="#1c1c1c" stroke-width="0.12">25</text>
<line x1="33.20" y1="414.60" x2="36.20" y2="414.60" stroke="#111111" stroke-width="1.0"/>
<text x="29.80" y="416.94" font-size="6.5" text-anchor="end" fill="#1c1c1c" textLength="3.36" lengthAdjust="spacingAndGlyphs" stroke="#1c1c1c" stroke-width="0.12">0</text>
<line x1="33.00" y1="414.60" x2="214.90" y2="414.60" stroke="#111111" stroke-width="1.3"/>
<rect x="38.40" y="370.88" width="4.05" height="43.73" fill="#3e4454" stroke="#161616" stroke-width="1.0"/>
<rect x="42.45" y="396.20" width="4.05" height="18.40" fill="#5ea842" stroke="#161616" stroke-width="1.0"/>
<rect x="46.50" y="393.07" width="4.05" height="21.53" fill="#b3c47f" stroke="#161616" stroke-width="1.0"/>
<rect x="50.55" y="395.79" width="4.05" height="18.81" fill="#cbc9d1" stroke="#161616" stroke-width="1.0"/>
<line x1="46.50" y1="414.60" x2="46.50" y2="417.60" stroke="#111111" stroke-width="1.0"/>
<text x="46.50" y="427.70" font-size="6.4" text-anchor="middle" fill="#1c1c1c" textLength="3.20" lengthAdjust="spacingAndGlyphs" stroke="#1c1c1c" stroke-width="0.12">1</text>
<rect x="58.12" y="327.98" width="4.05" height="86.62" fill="#3e4454" stroke="#161616" stroke-width="1.0"/>
<rect x="62.17" y="386.72" width="4.05" height="27.88" fill="#5ea842" stroke="#161616" stroke-width="1.0"/>
<rect x="66.22" y="384.90" width="4.05" height="29.70" fill="#b3c47f" stroke="#161616" stroke-width="1.0"/>
<rect x="70.27" y="391.09" width="4.05" height="23.51" fill="#cbc9d1" stroke="#161616" stroke-width="1.0"/>
<line x1="66.22" y1="414.60" x2="66.22" y2="417.60" stroke="#111111" stroke-width="1.0"/>
<text x="66.22" y="427.70" font-size="6.4" text-anchor="middle" fill="#1c1c1c" textLength="3.20" lengthAdjust="spacingAndGlyphs" stroke="#1c1c1c" stroke-width="0.12">2</text>
<rect x="77.84" y="341.42" width="4.05" height="73.18" fill="#3e4454" stroke="#161616" stroke-width="1.0"/>
<rect x="81.89" y="398.39" width="4.05" height="16.21" fill="#5ea842" stroke="#161616" stroke-width="1.0"/>
<rect x="85.94" y="397.28" width="4.05" height="17.32" fill="#b3c47f" stroke="#161616" stroke-width="1.0"/>
<rect x="89.99" y="393.73" width="4.05" height="20.87" fill="#cbc9d1" stroke="#161616" stroke-width="1.0"/>
<line x1="85.94" y1="414.60" x2="85.94" y2="417.60" stroke="#111111" stroke-width="1.0"/>
<text x="85.94" y="427.70" font-size="6.4" text-anchor="middle" fill="#1c1c1c" textLength="3.20" lengthAdjust="spacingAndGlyphs" stroke="#1c1c1c" stroke-width="0.12">3</text>
<rect x="97.56" y="347.78" width="4.05" height="66.82" fill="#3e4454" stroke="#161616" stroke-width="1.0"/>
<rect x="101.61" y="393.23" width="4.05" height="21.37" fill="#5ea842" stroke="#161616" stroke-width="1.0"/>
<rect x="105.66" y="397.69" width="4.05" height="16.91" fill="#b3c47f" stroke="#161616" stroke-width="1.0"/>
<rect x="109.71" y="392.61" width="4.05" height="21.99" fill="#cbc9d1" stroke="#161616" stroke-width="1.0"/>
<line x1="105.66" y1="414.60" x2="105.66" y2="417.60" stroke="#111111" stroke-width="1.0"/>
<text x="105.66" y="427.70" font-size="6.4" text-anchor="middle" fill="#1c1c1c" textLength="3.20" lengthAdjust="spacingAndGlyphs" stroke="#1c1c1c" stroke-width="0.12">4</text>
<rect x="117.28" y="367.16" width="4.05" height="47.44" fill="#3e4454" stroke="#161616" stroke-width="1.0"/>
<rect x="121.33" y="401.48" width="4.05" height="13.12" fill="#5ea842" stroke="#161616" stroke-width="1.0"/>
<rect x="125.38" y="401.98" width="4.05" height="12.62" fill="#b3c47f" stroke="#161616" stroke-width="1.0"/>
<rect x="129.43" y="399.50" width="4.05" height="15.10" fill="#cbc9d1" stroke="#161616" stroke-width="1.0"/>
<line x1="125.38" y1="414.60" x2="125.38" y2="417.60" stroke="#111111" stroke-width="1.0"/>
<text x="125.38" y="427.70" font-size="6.4" text-anchor="middle" fill="#1c1c1c" textLength="3.20" lengthAdjust="spacingAndGlyphs" stroke="#1c1c1c" stroke-width="0.12">5</text>
<rect x="137.00" y="397.11" width="4.05" height="17.49" fill="#3e4454" stroke="#161616" stroke-width="1.0"/>
<rect x="141.05" y="405.36" width="4.05" height="9.24" fill="#5ea842" stroke="#161616" stroke-width="1.0"/>
<rect x="145.10" y="404.87" width="4.05" height="9.74" fill="#b3c47f" stroke="#161616" stroke-width="1.0"/>
<rect x="149.15" y="404.70" width="4.05" height="9.90" fill="#cbc9d1" stroke="#161616" stroke-width="1.0"/>
<line x1="145.10" y1="414.60" x2="145.10" y2="417.60" stroke="#111111" stroke-width="1.0"/>
<text x="145.10" y="427.70" font-size="6.4" text-anchor="middle" fill="#1c1c1c" textLength="3.20" lengthAdjust="spacingAndGlyphs" stroke="#1c1c1c" stroke-width="0.12">7</text>
<rect x="156.72" y="371.58" width="4.05" height="43.02" fill="#3e4454" stroke="#161616" stroke-width="1.0"/>
<rect x="160.77" y="395.91" width="4.05" height="18.69" fill="#5ea842" stroke="#161616" stroke-width="1.0"/>
<rect x="164.82" y="377.64" width="4.05" height="36.96" fill="#b3c47f" stroke="#161616" stroke-width="1.0"/>
<rect x="168.87" y="383.37" width="4.05" height="31.23" fill="#cbc9d1" stroke="#161616" stroke-width="1.0"/>
<line x1="164.82" y1="414.60" x2="164.82" y2="417.60" stroke="#111111" stroke-width="1.0"/>
<text x="164.82" y="427.70" font-size="6.4" text-anchor="middle" fill="#1c1c1c" textLength="3.20" lengthAdjust="spacingAndGlyphs" stroke="#1c1c1c" stroke-width="0.12">8</text>
<rect x="176.44" y="349.30" width="4.05" height="65.30" fill="#3e4454" stroke="#161616" stroke-width="1.0"/>
<rect x="180.49" y="407.75" width="4.05" height="6.85" fill="#5ea842" stroke="#161616" stroke-width="1.0"/>
<rect x="184.54" y="408.41" width="4.05" height="6.19" fill="#b3c47f" stroke="#161616" stroke-width="1.0"/>
<rect x="188.59" y="407.34" width="4.05" height="7.26" fill="#cbc9d1" stroke="#161616" stroke-width="1.0"/>
<line x1="184.54" y1="414.60" x2="184.54" y2="417.60" stroke="#111111" stroke-width="1.0"/>
<text x="184.54" y="427.70" font-size="6.4" text-anchor="middle" fill="#1c1c1c" textLength="3.20" lengthAdjust="spacingAndGlyphs" stroke="#1c1c1c" stroke-width="0.12">9</text>
<rect x="196.16" y="385.31" width="4.05" height="29.29" fill="#3e4454" stroke="#161616" stroke-width="1.0"/>
<rect x="200.21" y="405.32" width="4.05" height="9.28" fill="#5ea842" stroke="#161616" stroke-width="1.0"/>
<rect x="204.26" y="404.29" width="4.05" height="10.31" fill="#b3c47f" stroke="#161616" stroke-width="1.0"/>
<rect x="208.31" y="404.29" width="4.05" height="10.31" fill="#cbc9d1" stroke="#161616" stroke-width="1.0"/>
<line x1="204.26" y1="414.60" x2="204.26" y2="417.60" stroke="#111111" stroke-width="1.0"/>
<text x="204.26" y="427.70" font-size="6.4" text-anchor="middle" fill="#1c1c1c" textLength="5.98" lengthAdjust="spacingAndGlyphs" stroke="#1c1c1c" stroke-width="0.12">11</text>
<text x="125.70" y="437.60" font-size="8.6" text-anchor="middle" fill="#1c1c1c" textLength="25.70" lengthAdjust="spacingAndGlyphs" stroke="#1c1c1c" stroke-width="0.12">Patient</text>
<rect x="189.40" y="325.90" width="6.60" height="4.60" fill="#3e4454" stroke="#111" stroke-width="1.0"/>
<text x="199.00" y="330.60" font-size="6.6" text-anchor="start" fill="#1c1c1c" textLength="8.58" lengthAdjust="spacingAndGlyphs" stroke="#1c1c1c" stroke-width="0.12">pre</text>
<rect x="189.40" y="333.90" width="6.60" height="4.60" fill="#5ea842" stroke="#111" stroke-width="1.0"/>
<text x="199.00" y="338.60" font-size="6.6" text-anchor="start" fill="#1c1c1c" textLength="19.81" lengthAdjust="spacingAndGlyphs" stroke="#1c1c1c" stroke-width="0.12">Cycle 1</text>
<rect x="189.40" y="341.90" width="6.60" height="4.60" fill="#b3c47f" stroke="#111" stroke-width="1.0"/>
<text x="199.00" y="346.60" font-size="6.6" text-anchor="start" fill="#1c1c1c" textLength="19.81" lengthAdjust="spacingAndGlyphs" stroke="#1c1c1c" stroke-width="0.12">Cycle 2</text>
<rect x="189.40" y="349.90" width="6.60" height="4.60" fill="#cbc9d1" stroke="#111" stroke-width="1.0"/>
<text x="199.00" y="354.60" font-size="6.6" text-anchor="start" fill="#1c1c1c" textLength="19.81" lengthAdjust="spacingAndGlyphs" stroke="#1c1c1c" stroke-width="0.12">Cycle 3</text>
<text transform="translate(13.90,421.30) rotate(-90)" font-size="8.8" fill="#1c1c1c" stroke="#1c1c1c" stroke-width="0.12" textLength="26.80" lengthAdjust="spacingAndGlyphs">Plasma</text>
<text transform="translate(13.90,392.90) rotate(-90)" font-size="8.8" fill="#1c1c1c" stroke="#1c1c1c" stroke-width="0.12" font-weight="bold" textLength="19.70" lengthAdjust="spacingAndGlyphs">CCL4</text>
<text transform="translate(13.90,371.50) rotate(-90)" font-size="8.8" fill="#1c1c1c" stroke="#1c1c1c" stroke-width="0.12" textLength="21.20" lengthAdjust="spacingAndGlyphs">levels</text>
<text transform="translate(13.90,349.60) rotate(-90)" font-size="8.8" fill="#1c1c1c" stroke="#1c1c1c" stroke-width="0.12" textLength="32.30" lengthAdjust="spacingAndGlyphs">(pg/mL)</text>
<text x="381.60" y="165.30" font-size="11.3" text-anchor="start" fill="#1c1c1c" textLength="5.60" lengthAdjust="spacingAndGlyphs" stroke="#1c1c1c" stroke-width="0.12">F</text>
<line x1="423.00" y1="176.70" x2="423.00" y2="266.50" stroke="#111111" stroke-width="1.3"/>
<line x1="420.00" y1="186.20" x2="423.00" y2="186.20" stroke="#111111" stroke-width="1.0"/>
<text x="416.20" y="188.54" font-size="6.5" text-anchor="end" fill="#1c1c1c" textLength="10.08" lengthAdjust="spacingAndGlyphs" stroke="#1c1c1c" stroke-width="0.12">100</text>
<line x1="420.00" y1="202.26" x2="423.00" y2="202.26" stroke="#111111" stroke-width="1.0"/>
<text x="416.20" y="204.60" font-size="6.5" text-anchor="end" fill="#1c1c1c" textLength="6.72" lengthAdjust="spacingAndGlyphs" stroke="#1c1c1c" stroke-width="0.12">80</text>
<line x1="420.00" y1="218.32" x2="423.00" y2="218.32" stroke="#111111" stroke-width="1.0"/>
<text x="416.20" y="220.66" font-size="6.5" text-anchor="end" fill="#1c1c1c" textLength="6.72" lengthAdjust="spacingAndGlyphs" stroke="#1c1c1c" stroke-width="0.12">60</text>
<line x1="420.00" y1="234.38" x2="423.00" y2="234.38" stroke="#111111" stroke-width="1.0"/>
<text x="416.20" y="236.72" font-size="6.5" text-anchor="end" fill="#1c1c1c" textLength="6.72" lengthAdjust="spacingAndGlyphs" stroke="#1c1c1c" stroke-width="0.12">40</text>
<line x1="420.00" y1="250.44" x2="423.00" y2="250.44" stroke="#111111" stroke-width="1.0"/>
<text x="416.20" y="252.78" font-size="6.5" text-anchor="end" fill="#1c1c1c" textLength="6.72" lengthAdjust="spacingAndGlyphs" stroke="#1c1c1c" stroke-width="0.12">20</text>
<line x1="420.00" y1="266.50" x2="423.00" y2="266.50" stroke="#111111" stroke-width="1.0"/>
<text x="416.20" y="268.84" font-size="6.5" text-anchor="end" fill="#1c1c1c" textLength="3.36" lengthAdjust="spacingAndGlyphs" stroke="#1c1c1c" stroke-width="0.12">0</text>
<line x1="421.00" y1="266.50" x2="510.60" y2="266.50" stroke="#111111" stroke-width="1.3"/>
<rect x="427.00" y="186.20" width="14.90" height="80.30" fill="#3e4454" stroke="#1a1a1a" stroke-width="1.0"/>
<line x1="434.45" y1="266.50" x2="434.45" y2="269.50" stroke="#111111" stroke-width="1.0"/>
<text x="434.45" y="278.80" font-size="6.6" text-anchor="middle" fill="#1c1c1c" textLength="9.24" lengthAdjust="spacingAndGlyphs" stroke="#1c1c1c" stroke-width="0.12">Pre</text>
<line x1="456.60" y1="211.60" x2="456.60" y2="221.70" stroke="#111" stroke-width="1.0"/>
<line x1="453.00" y1="211.60" x2="460.20" y2="211.60" stroke="#111" stroke-width="1.2"/>
<rect x="449.30" y="221.70" width="14.60" height="44.80" fill="#60a041" stroke="#1a1a1a" stroke-width="1.0"/>
<line x1="456.60" y1="266.50" x2="456.60" y2="269.50" stroke="#111111" stroke-width="1.0"/>
<text x="456.60" y="278.80" font-size="6.6" text-anchor="middle" fill="#1c1c1c" textLength="3.30" lengthAdjust="spacingAndGlyphs" stroke="#1c1c1c" stroke-width="0.12">1</text>
<line x1="478.50" y1="215.80" x2="478.50" y2="224.20" stroke="#111" stroke-width="1.0"/>
<line x1="474.90" y1="215.80" x2="482.10" y2="215.80" stroke="#111" stroke-width="1.2"/>
<rect x="471.20" y="224.20" width="14.60" height="42.30" fill="#a3b472" stroke="#1a1a1a" stroke-width="1.0"/>
<line x1="478.50" y1="266.50" x2="478.50" y2="269.50" stroke="#111111" stroke-width="1.0"/>
<text x="478.50" y="278.80" font-size="6.6" text-anchor="middle" fill="#1c1c1c" textLength="3.30" lengthAdjust="spacingAndGlyphs" stroke="#1c1c1c" stroke-width="0.12">2</text>
<line x1="501.10" y1="211.60" x2="501.10" y2="221.10" stroke="#111" stroke-width="1.0"/>
<line x1="497.50" y1="211.60" x2="504.70" y2="211.60" stroke="#111" stroke-width="1.2"/>
<rect x="493.50" y="221.10" width="15.20" height="45.40" fill="#b9b8bf" stroke="#1a1a1a" stroke-width="1.0"/>
<line x1="501.10" y1="266.50" x2="501.10" y2="269.50" stroke="#111111" stroke-width="1.0"/>
<text x="501.10" y="278.80" font-size="6.6" text-anchor="middle" fill="#1c1c1c" textLength="3.30" lengthAdjust="spacingAndGlyphs" stroke="#1c1c1c" stroke-width="0.12">3</text>
<text x="478.50" y="289.00" font-size="6.8" text-anchor="middle" fill="#1c1c1c" textLength="15.30" lengthAdjust="spacingAndGlyphs" stroke="#1c1c1c" stroke-width="0.12">Cycle</text>
<line x1="450.80" y1="201.50" x2="507.80" y2="201.50" stroke="#222" stroke-width="1.0"/>
<line x1="450.80" y1="208.50" x2="476.30" y2="208.50" stroke="#222" stroke-width="1.0"/>
<line x1="482.20" y1="208.50" x2="507.80" y2="208.50" stroke="#222" stroke-width="1.0"/>
<text x="479.30" y="199.80" font-size="6.9" text-anchor="middle" fill="#1c1c1c" textLength="6.27" lengthAdjust="spacingAndGlyphs" stroke="#1c1c1c" stroke-width="0.12">ns</text>
<text x="463.55" y="206.80" font-size="6.9" text-anchor="middle" fill="#1c1c1c" textLength="6.27" lengthAdjust="spacingAndGlyphs" stroke="#1c1c1c" stroke-width="0.12">ns</text>
<text x="495.00" y="206.80" font-size="6.9" text-anchor="middle" fill="#1c1c1c" textLength="6.27" lengthAdjust="spacingAndGlyphs" stroke="#1c1c1c" stroke-width="0.12">ns</text>
<text transform="translate(388.90,257.60) rotate(-90)" font-size="8.0" fill="#1c1c1c" stroke="#1c1c1c" stroke-width="0.12" textLength="26.30" lengthAdjust="spacingAndGlyphs">Plasma</text>
<text transform="translate(388.90,229.90) rotate(-90)" font-size="8.8" fill="#1c1c1c" stroke="#1c1c1c" stroke-width="0.12" font-weight="bold" textLength="20.10" lengthAdjust="spacingAndGlyphs">CCL3</text>
<text transform="translate(388.90,208.10) rotate(-90)" font-size="8.0" fill="#1c1c1c" stroke="#1c1c1c" stroke-width="0.12" textLength="22.10" lengthAdjust="spacingAndGlyphs">levels</text>
<text transform="translate(399.40,221.80) rotate(-90)" font-size="8.0" text-anchor="middle" fill="#1c1c1c" textLength="75.00" lengthAdjust="spacingAndGlyphs" stroke="#1c1c1c" stroke-width="0.12">(% of pretreatment)</text>
<text x="235.00" y="317.60" font-size="11.3" text-anchor="start" fill="#1c1c1c" textLength="7.50" lengthAdjust="spacingAndGlyphs" stroke="#1c1c1c" stroke-width="0.12">H</text>
<line x1="275.10" y1="325.10" x2="275.10" y2="414.70" stroke="#111111" stroke-width="1.3"/>
<line x1="272.10" y1="334.40" x2="275.10" y2="334.40" stroke="#111111" stroke-width="1.0"/>
<text x="268.30" y="336.74" font-size="6.5" text-anchor="end" fill="#1c1c1c" textLength="10.08" lengthAdjust="spacingAndGlyphs" stroke="#1c1c1c" stroke-width="0.12">100</text>
<line x1="272.10" y1="350.46" x2="275.10" y2="350.46" stroke="#111111" stroke-width="1.0"/>
<text x="268.30" y="352.80" font-size="6.5" text-anchor="end" fill="#1c1c1c" textLength="6.72" lengthAdjust="spacingAndGlyphs" stroke="#1c1c1c" stroke-width="0.12">80</text>
<line x1="272.10" y1="366.52" x2="275.10" y2="366.52" stroke="#111111" stroke-width="1.0"/>
<text x="268.30" y="368.86" font-size="6.5" text-anchor="end" fill="#1c1c1c" textLength="6.72" lengthAdjust="spacingAndGlyphs" stroke="#1c1c1c" stroke-width="0.12">60</text>
<line x1="272.10" y1="382.58" x2="275.10" y2="382.58" stroke="#111111" stroke-width="1.0"/>
<text x="268.30" y="384.92" font-size="6.5" text-anchor="end" fill="#1c1c1c" textLength="6.72" lengthAdjust="spacingAndGlyphs" stroke="#1c1c1c" stroke-width="0.12">40</text>
<line x1="272.10" y1="398.64" x2="275.10" y2="398.64" stroke="#111111" stroke-width="1.0"/>
<text x="268.30" y="400.98" font-size="6.5" text-anchor="end" fill="#1c1c1c" textLength="6.72" lengthAdjust="spacingAndGlyphs" stroke="#1c1c1c" stroke-width="0.12">20</text>
<line x1="272.10" y1="414.70" x2="275.10" y2="414.70" stroke="#111111" stroke-width="1.0"/>
<text x="268.30" y="417.04" font-size="6.5" text-anchor="end" fill="#1c1c1c" textLength="3.36" lengthAdjust="spacingAndGlyphs" stroke="#1c1c1c" stroke-width="0.12">0</text>
<line x1="272.70" y1="414.70" x2="364.00" y2="414.70" stroke="#111111" stroke-width="1.3"/>
<rect x="278.40" y="334.40" width="15.20" height="80.30" fill="#3e4454" stroke="#1a1a1a" stroke-width="1.0"/>
<line x1="286.00" y1="414.70" x2="286.00" y2="417.70" stroke="#111111" stroke-width="1.0"/>
<text x="286.00" y="427.20" font-size="6.6" text-anchor="middle" fill="#1c1c1c" textLength="9.24" lengthAdjust="spacingAndGlyphs" stroke="#1c1c1c" stroke-width="0.12">Pre</text>
<line x1="308.45" y1="384.90" x2="308.45" y2="388.20" stroke="#111" stroke-width="1.0"/>
<line x1="304.85" y1="384.90" x2="312.05" y2="384.90" stroke="#111" stroke-width="1.2"/>
<rect x="301.00" y="388.20" width="14.90" height="26.50" fill="#60a041" stroke="#1a1a1a" stroke-width="1.0"/>
<line x1="308.45" y1="414.70" x2="308.45" y2="417.70" stroke="#111111" stroke-width="1.0"/>
<text x="308.45" y="427.20" font-size="6.6" text-anchor="middle" fill="#1c1c1c" textLength="3.30" lengthAdjust="spacingAndGlyphs" stroke="#1c1c1c" stroke-width="0.12">1</text>
<line x1="330.50" y1="377.80" x2="330.50" y2="383.50" stroke="#111" stroke-width="1.0"/>
<line x1="326.90" y1="377.80" x2="334.10" y2="377.80" stroke="#111" stroke-width="1.2"/>
<rect x="323.00" y="383.50" width="15.00" height="31.20" fill="#a3b472" stroke="#1a1a1a" stroke-width="1.0"/>
<line x1="330.50" y1="414.70" x2="330.50" y2="417.70" stroke="#111111" stroke-width="1.0"/>
<text x="330.50" y="427.20" font-size="6.6" text-anchor="middle" fill="#1c1c1c" textLength="3.30" lengthAdjust="spacingAndGlyphs" stroke="#1c1c1c" stroke-width="0.12">2</text>
<line x1="352.85" y1="379.40" x2="352.85" y2="384.30" stroke="#111" stroke-width="1.0"/>
<line x1="349.25" y1="379.40" x2="356.45" y2="379.40" stroke="#111" stroke-width="1.2"/>
<rect x="345.30" y="384.30" width="15.10" height="30.40" fill="#b9b8bf" stroke="#1a1a1a" stroke-width="1.0"/>
<line x1="352.85" y1="414.70" x2="352.85" y2="417.70" stroke="#111111" stroke-width="1.0"/>
<text x="352.85" y="427.20" font-size="6.6" text-anchor="middle" fill="#1c1c1c" textLength="3.30" lengthAdjust="spacingAndGlyphs" stroke="#1c1c1c" stroke-width="0.12">3</text>
<text x="330.20" y="438.00" font-size="6.8" text-anchor="middle" fill="#1c1c1c" textLength="15.30" lengthAdjust="spacingAndGlyphs" stroke="#1c1c1c" stroke-width="0.12">Cycle</text>
<line x1="302.90" y1="367.50" x2="359.50" y2="367.50" stroke="#222" stroke-width="1.0"/>
<line x1="302.90" y1="374.50" x2="328.50" y2="374.50" stroke="#222" stroke-width="1.0"/>
<line x1="334.00" y1="374.50" x2="359.50" y2="374.50" stroke="#222" stroke-width="1.0"/>
<text x="331.20" y="365.80" font-size="6.9" text-anchor="middle" fill="#1c1c1c" textLength="6.27" lengthAdjust="spacingAndGlyphs" stroke="#1c1c1c" stroke-width="0.12">ns</text>
<text x="315.70" y="372.80" font-size="6.9" text-anchor="middle" fill="#1c1c1c" textLength="6.27" lengthAdjust="spacingAndGlyphs" stroke="#1c1c1c" stroke-width="0.12">ns</text>
<text x="346.75" y="372.80" font-size="6.9" text-anchor="middle" fill="#1c1c1c" textLength="6.27" lengthAdjust="spacingAndGlyphs" stroke="#1c1c1c" stroke-width="0.12">ns</text>
<text transform="translate(240.90,407.90) rotate(-90)" font-size="8.0" fill="#1c1c1c" stroke="#1c1c1c" stroke-width="0.12" textLength="26.40" lengthAdjust="spacingAndGlyphs">Plasma</text>
<text transform="translate(240.90,380.40) rotate(-90)" font-size="8.8" fill="#1c1c1c" stroke="#1c1c1c" stroke-width="0.12" font-weight="bold" textLength="19.60" lengthAdjust="spacingAndGlyphs">CCL4</text>
<text transform="translate(240.90,359.50) rotate(-90)" font-size="8.0" fill="#1c1c1c" stroke="#1c1c1c" stroke-width="0.12" textLength="22.30" lengthAdjust="spacingAndGlyphs">levels</text>
<text transform="translate(251.40,373.00) rotate(-90)" font-size="8.0" text-anchor="middle" fill="#1c1c1c" textLength="76.20" lengthAdjust="spacingAndGlyphs" stroke="#1c1c1c" stroke-width="0.12">(% of pretreatment)</text>
<rect x="0" y="0" width="1.7" height="445" fill="#111"/>
<rect x="0" y="0" width="520" height="1" fill="#111"/>
<rect x="518.8" y="0" width="1.2" height="445" fill="#111"/>
<rect x="0" y="443" width="520" height="2" fill="#111"/>
</svg></body></html>
